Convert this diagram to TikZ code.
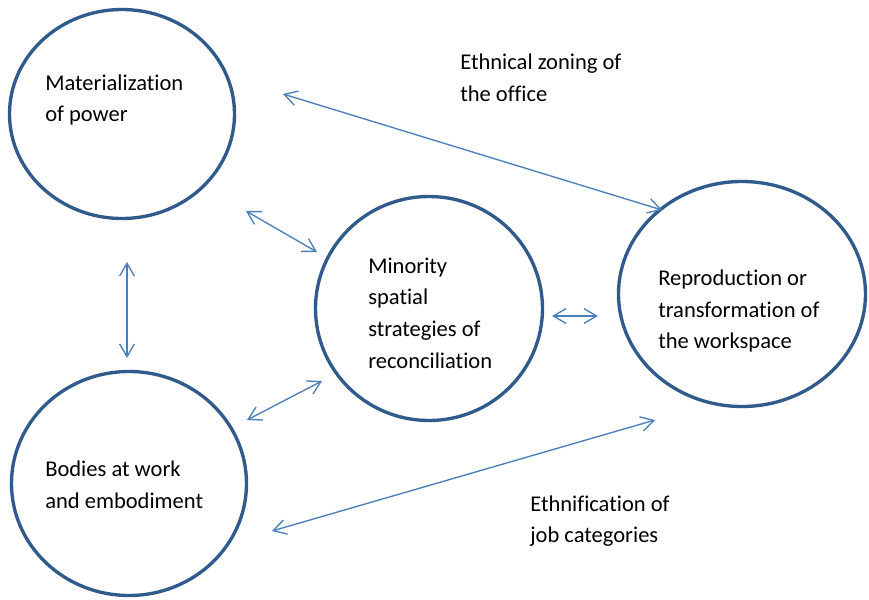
\documentclass[tikz,border=0pt]{standalone}
\usepackage{fontspec}
\setmainfont{Carlito}[Ligatures=NoCommon]
\usetikzlibrary{arrows.meta,shapes.geometric}
\definecolor{ringblue}{HTML}{2F5A8C}
\definecolor{arrowblue}{HTML}{4A7EBB}
\begin{document}
\begin{tikzpicture}[x=0.75pt,y=-0.75pt,
  ring/.style={draw=ringblue,line width=2.5pt,ellipse,inner sep=0pt},
  link/.style={draw=arrowblue,line width=1pt,
    {Straight Barb[length=9.5pt,width=11pt]}-{Straight Barb[length=9.5pt,width=11pt]}},
  txt/.style={anchor=west,align=left,inner sep=0pt,
    font=\fontsize{16.9}{23.8}\selectfont}]
\useasboundingbox (0,0) rectangle (869,600);
%%%%%%%%%%%%%%%%%%%%%%%%%%%%%%%%
%% rings
%%%%%%%%%%%%%%%%%%%%%%%%%%%%%%%%
\node[ring,minimum width=168.75pt,minimum height=156.75pt] (power)  at (122,114)   {};
\node[ring,minimum width=176.25pt,minimum height=168pt]    (bodies) at (129,483.5) {};
\node[ring,minimum width=170.25pt,minimum height=168pt]    (minor)  at (429,308.5) {};
\node[ring,minimum width=185.25pt,minimum height=168.75pt] (repro)  at (742,294)   {};
%
\node[txt] (powertxt)  at (45,100)  {Materialization\\of power};
\node[txt] (bodiestxt) at (45,485) {Bodies at work\\and embodiment};
\node[txt] (minortxt)  at (368,313) {Minority\\spatial\\strategies of\\reconciliation};
\node[txt] (reprotxt)  at (658,311) {Reproduction or\\transformation of\\the workspace};
%
\node[txt] (zoning) at (460,77.5)  {Ethnical zoning of\\the office};
\node[txt] (jobs)   at (530,521)   {Ethnification of\\job categories};
%%%%%%%%%%%%%%%%%%%%%%%%%%%%%%%%
%% arrows
%%%%%%%%%%%%%%%%%%%%%%%%%%%%%%%%
\coordinate (a1) at (283,94);  \coordinate (b1) at (662,210);
\coordinate (a2) at (246,211); \coordinate (b2) at (317,252);
\coordinate (a3) at (127,262); \coordinate (b3) at (127,358);
\coordinate (a4) at (247,420); \coordinate (b4) at (322,381);
\coordinate (a5) at (552,316); \coordinate (b5) at (598,316);
\coordinate (a6) at (272,531); \coordinate (b6) at (655,420);

\draw[link] (a1)--(b1);
\draw[link] (a2)--(b2);
\draw[link] (a3)--(b3);
\draw[link] (a4)--(b4);
\draw[link] (a5)--(b5);
\draw[link] (a6)--(b6);
\end{tikzpicture}
\end{document}
